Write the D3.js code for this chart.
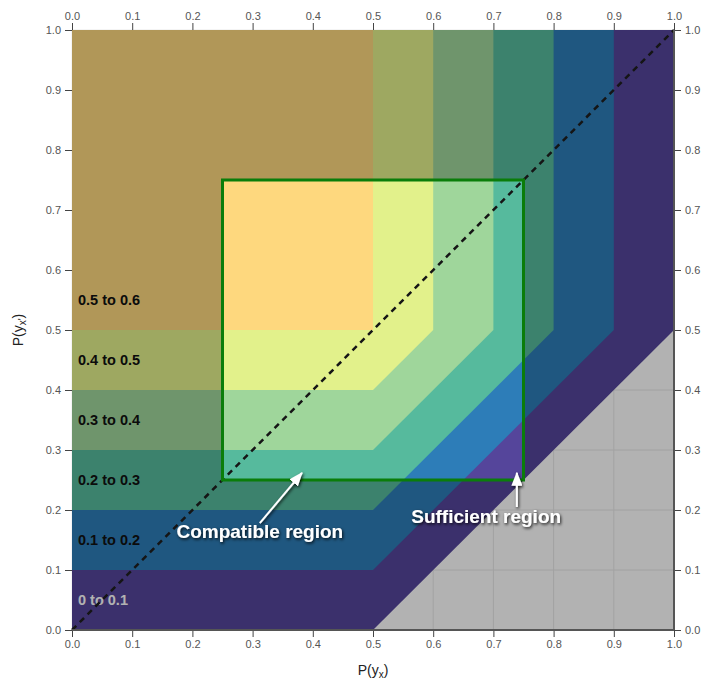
<!DOCTYPE html>
<html><head><meta charset="utf-8">
<script src="https://cdn.jsdelivr.net/npm/d3@7"></script>
<style>
body{margin:0;background:#fff;}
text{font-family:"Liberation Sans",Arial,Helvetica,sans-serif;}
</style>
</head><body>
<svg id="chart" width="701" height="685"></svg>
<script>
// ---- data ----
const tickValues = [0.0, 0.1, 0.2, 0.3, 0.4, 0.5, 0.6, 0.7, 0.8, 0.9, 1.0];
const bandLower = [0.0, 0.1, 0.2, 0.3, 0.4, 0.5];
const bandLabels = ["0 to 0.1", "0.1 to 0.2", "0.2 to 0.3", "0.3 to 0.4", "0.4 to 0.5", "0.5 to 0.6"];
const bandColors = ["#55459b", "#2d7db8", "#56ba9d", "#9fd69b", "#e2f18b", "#fed87e"];
const bandLabelColors = ["#ffffff", "#111111", "#111111", "#111111", "#111111", "#111111"];
const compatibleX = [0.25, 0.75];
const compatibleY = [0.25, 0.75];
const annotationTexts = ["Compatible region", "Sufficient region"];
const annotationTextPos = [[0.312, 0.153], [0.688, 0.178]];
const annotationArrowFrom = [[0.312, 0.178], [0.739, 0.205]];
const annotationArrowTo = [[0.382, 0.262], [0.739, 0.262]];

// ---- layout ----
const svg = d3.select("#chart");
const x = d3.scaleLinear().domain([0, 1]).range([72, 674]);
const y = d3.scaleLinear().domain([0, 1]).range([630, 30]);

const defs = svg.append("defs");
const shadow = defs.append("filter").attr("id", "shadow")
  .attr("x", "-20%").attr("y", "-40%").attr("width", "140%").attr("height", "180%");
shadow.append("feDropShadow").attr("dx", 1).attr("dy", 1.5).attr("stdDeviation", 1.6)
  .attr("flood-color", "#000").attr("flood-opacity", 0.85);
defs.append("marker").attr("id", "arrowhead")
  .attr("viewBox", "0 0 14 11").attr("refX", 13).attr("refY", 5.5)
  .attr("markerWidth", 14).attr("markerHeight", 11)
  .attr("markerUnits", "userSpaceOnUse").attr("orient", "auto")
  .append("path").attr("d", "M0,0 L14,5.5 L0,11 Z").attr("fill", "#fff");

// background
svg.append("rect").attr("x", x(0)).attr("y", y(1))
  .attr("width", x(1) - x(0)).attr("height", y(0) - y(1)).attr("fill", "#ffffff");

// grid
const grid = svg.append("g");
grid.selectAll("line.v").data(tickValues).join("line")
  .attr("x1", d => x(d)).attr("x2", d => x(d)).attr("y1", y(0)).attr("y2", y(1))
  .attr("stroke", "#e8e8e8").attr("stroke-width", 1);
grid.selectAll("line.h").data(tickValues).join("line")
  .attr("y1", d => y(d)).attr("y2", d => y(d)).attr("x1", x(0)).attr("x2", x(1))
  .attr("stroke", "#e8e8e8").attr("stroke-width", 1);

// bands
const line = d3.line().x(d => x(d[0])).y(d => y(d[1]));
function bandPoly(L) {
  return [[0, 1], [1 - L, 1], [1 - L, 0.5], [0.5, L], [0, L]];
}
svg.append("g").selectAll("path").data(bandLower).join("path")
  .attr("d", d => line(bandPoly(d)) + "Z")
  .attr("fill", (d, i) => bandColors[i]);

// band labels
svg.append("g").selectAll("text").data(bandLower).join("text")
  .attr("x", x(0) + 6).attr("y", d => y(d + 0.05))
  .attr("dy", "0.33em")
  .attr("font-size", 14.5).attr("font-weight", "bold")
  .attr("fill", (d, i) => bandLabelColors[i])
  .text((d, i) => bandLabels[i]);

// darkening overlay outside compatible region
const ox0 = x(0), ox1 = x(1), oy0 = y(1), oy1 = y(0);
const cx0 = x(compatibleX[0]), cx1 = x(compatibleX[1]), cy0 = y(compatibleY[1]), cy1 = y(compatibleY[0]);
svg.append("path")
  .attr("d", `M${ox0},${oy0}H${ox1}V${oy1}H${ox0}Z M${cx0},${cy0}V${cy1}H${cx1}V${cy0}Z`)
  .attr("fill-rule", "evenodd").attr("fill", "#000").attr("fill-opacity", 0.3);

// diagonal
svg.append("line").attr("x1", x(0)).attr("y1", y(0)).attr("x2", x(1)).attr("y2", y(1))
  .attr("stroke", "#151515").attr("stroke-width", 2.5).attr("stroke-dasharray", "6,5");

// compatible rectangle
svg.append("rect").attr("x", cx0).attr("y", cy0)
  .attr("width", cx1 - cx0).attr("height", cy1 - cy0)
  .attr("fill", "none").attr("stroke", "#0a7d0a").attr("stroke-width", 3);

// axes
function styleAxis(g) {
  g.selectAll(".tick line").attr("stroke", "#444");
  g.selectAll(".tick text").attr("fill", "#555").attr("font-size", 11)
    .attr("font-family", '"Liberation Sans",Arial,sans-serif');
  g.select(".domain").remove();
}
const fmt = d3.format(".1f");
svg.append("g").attr("transform", `translate(0,${y(0)})`)
  .call(d3.axisBottom(x).tickValues(tickValues).tickFormat(fmt).tickSize(7).tickPadding(3)).call(styleAxis);
svg.append("g").attr("transform", `translate(0,${y(1)})`)
  .call(d3.axisTop(x).tickValues(tickValues).tickFormat(fmt).tickSize(7).tickPadding(3)).call(styleAxis);
svg.append("g").attr("transform", `translate(${x(0)},0)`)
  .call(d3.axisLeft(y).tickValues(tickValues).tickFormat(fmt).tickSize(7).tickPadding(4)).call(styleAxis);
svg.append("g").attr("transform", `translate(${x(1)},0)`)
  .call(d3.axisRight(y).tickValues(tickValues).tickFormat(fmt).tickSize(7).tickPadding(4)).call(styleAxis);
// bottom and right domain lines
svg.append("line").attr("x1", x(0)).attr("x2", x(1)).attr("y1", y(0)).attr("y2", y(0))
  .attr("stroke", "#555").attr("stroke-width", 2);
svg.append("line").attr("x1", x(1)).attr("x2", x(1)).attr("y1", y(0)).attr("y2", y(1))
  .attr("stroke", "#555").attr("stroke-width", 2);

// axis titles
const xt = svg.append("text").attr("x", (x(0) + x(1)) / 2).attr("y", 675)
  .attr("text-anchor", "middle").attr("font-size", 14).attr("fill", "#222");
xt.append("tspan").text("P(y");
xt.append("tspan").attr("font-size", 10).attr("dy", 3).text("x");
xt.append("tspan").attr("dy", -3).text(")");

const yt = svg.append("text").attr("transform", `translate(23,${(y(0) + y(1)) / 2}) rotate(-90)`)
  .attr("text-anchor", "middle").attr("font-size", 14).attr("fill", "#222");
yt.append("tspan").text("P(y");
yt.append("tspan").attr("font-size", 10).attr("dy", 3).text("x'");
yt.append("tspan").attr("dy", -3).text(")");

// annotations
const ann = svg.append("g").attr("filter", "url(#shadow)");
annotationTexts.forEach((t, i) => {
  ann.append("line")
    .attr("x1", x(annotationArrowFrom[i][0])).attr("y1", y(annotationArrowFrom[i][1]))
    .attr("x2", x(annotationArrowTo[i][0])).attr("y2", y(annotationArrowTo[i][1]))
    .attr("stroke", "#fff").attr("stroke-width", 2).attr("marker-end", "url(#arrowhead)");
  ann.append("text").attr("x", x(annotationTextPos[i][0])).attr("y", y(annotationTextPos[i][1]))
    .attr("text-anchor", "middle").attr("font-size", 19).attr("font-weight", "bold")
    .attr("fill", "#fff").text(t);
});
</script>
</body></html>
